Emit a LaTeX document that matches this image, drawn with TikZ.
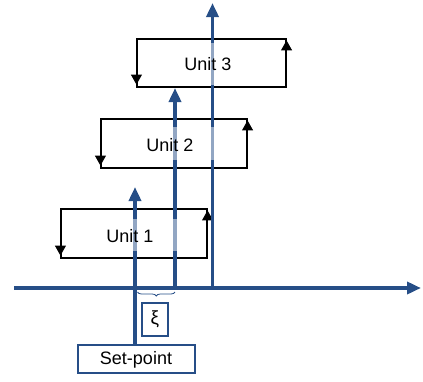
\documentclass[tikz,border=0pt]{standalone}
\usepackage{fontspec}
\setmainfont{Liberation Sans}
\usetikzlibrary{arrows.meta,decorations.pathreplacing}
\definecolor{axisblue}{RGB}{38,78,135}
\tikzset{
  bluearrow/.style={draw=axisblue, line width=3.6pt, -{Triangle[width=12pt,length=14pt]}},
  unitbox/.style={draw=black, line width=1.1pt, minimum width=146pt, minimum height=49pt, inner sep=0pt},
  looparrow/.style={draw=black, line width=1.1pt, -{Triangle[width=11pt,length=10pt]}},
  lbl/.style={font=\fontsize{18}{21}\selectfont, inner sep=0pt},
  bluebox/.style={draw=axisblue, line width=1.4pt, inner sep=0pt, fill=white},
  veil/.style={fill=white, fill opacity=0.5, draw=none},
}
\begin{document}
\begin{tikzpicture}[x=1pt,y=-1pt]
\useasboundingbox (0,0) rectangle (423,381);
% unit boxes
\node[unitbox] (u1) at (134,233.5) {};
\node[unitbox] (u2) at (174,143.5) {};
\node[unitbox, minimum width=149pt, minimum height=48pt] (u3) at (211.5,63) {};
\draw[looparrow] ([yshift=-0.6pt]u1.north west) -- ([yshift=3pt]u1.south west);
\draw[looparrow] ([yshift=0.6pt]u1.south east) -- ([yshift=-2pt]u1.north east);
\draw[looparrow] ([yshift=-0.6pt]u2.north west) -- ([yshift=3pt]u2.south west);
\draw[looparrow] ([yshift=0.6pt]u2.south east) -- ([yshift=-2pt]u2.north east);
\draw[looparrow] ([yshift=-0.6pt]u3.north west) -- ([yshift=3pt]u3.south west);
\draw[looparrow] ([yshift=0.6pt]u3.south east) -- ([yshift=-2pt]u3.north east);
% boxes
\node[bluebox, minimum width=117pt, minimum height=28pt] (sp) at (136.5,359) {};
\node[lbl] at (136,360) {Set-point};
\node[bluebox, minimum width=26pt, minimum height=33pt] (xi) at (155,319.5) {\fontsize{19}{22}\selectfont ξ};
% axis and vertical arrows
\coordinate (a0) at (14,288);
\coordinate (a1) at (421,288);
\coordinate (t1) at (135,187);
\coordinate (t2) at (175,88);
\coordinate (t3) at (212.5,3);
\draw[bluearrow] (a0) -- (a1);
\draw[bluearrow] (sp.north -| t1) -- (t1);
\draw[bluearrow] (a0 -| t2) -- (t2);
\draw[bluearrow] (a0 -| t3) -- (t3);
% light overlays
\fill[veil] (128,219) rectangle (182,251);
\fill[veil] (168,127) rectangle (219,160);
\fill[veil] (205,43) rectangle (219,85);
% labels
\node[lbl] at (130,236) {Unit 1};
\node[lbl] at (170,145.5) {Unit 2};
\node[lbl] at (208,64.5) {Unit 3};
% brace
\coordinate (b0) at (137.5,292);
\coordinate (b1) at (175,292);
\draw[axisblue, line width=0.8pt, decorate, decoration={brace, mirror, amplitude=4pt}] (b0) -- (b1);
\end{tikzpicture}
\end{document}
